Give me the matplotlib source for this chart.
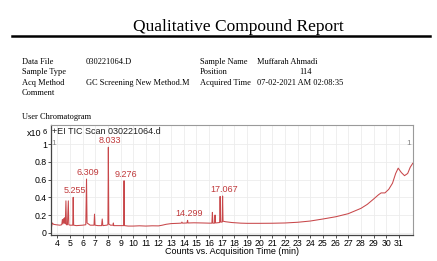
import matplotlib
matplotlib.use("Agg")
import matplotlib.pyplot as plt

# ---- data ----
trace_time = [3.52, 3.6, 3.7, 3.9, 4.2, 4.35, 4.4, 4.45, 4.5, 4.55, 4.6, 4.63, 4.68, 4.72,
              4.8, 4.87, 4.91, 5.0, 5.22, 5.255, 5.29, 5.5, 6.0, 6.25, 6.309, 6.35, 6.45,
              6.6, 6.9, 6.94, 6.98, 7.2, 7.5, 7.55, 7.6, 7.9, 8.0, 8.033, 8.07, 8.2, 8.4,
              8.43, 8.46, 8.8, 9.24, 9.276, 9.31, 9.6, 10.0, 10.5, 11.0, 11.5, 12.0, 12.3,
              12.6, 13.0, 13.5, 13.8, 13.85, 13.9, 14.25, 14.299, 14.33, 14.8, 15.5, 16.0,
              16.22, 16.26, 16.3, 16.43, 16.47, 16.51, 16.83, 16.87, 16.91, 17.03, 17.067,
              17.1, 17.3, 17.8, 18.5, 19.0, 20.0, 21.0, 22.0, 23.0, 24.0, 25.0, 26.0, 27.0,
              28.0, 28.5, 29.0, 29.4, 29.6, 29.9, 30.2, 30.5, 30.75, 30.95, 31.2, 31.45,
              31.7, 31.9, 32.1]
trace_value = [0.05, 0.11, 0.095, 0.09, 0.085, 0.09, 0.15, 0.1, 0.16, 0.11, 0.17, 0.1, 0.36, 0.09,
               0.09, 0.36, 0.09, 0.085, 0.085, 0.40, 0.085, 0.08, 0.085, 0.09, 0.607, 0.11, 0.1,
               0.085, 0.085, 0.21, 0.085, 0.08, 0.08, 0.155, 0.08, 0.085, 0.09, 0.966, 0.1, 0.085, 0.085,
               0.11, 0.08, 0.08, 0.08, 0.588, 0.08, 0.075, 0.075, 0.078, 0.075, 0.078, 0.077, 0.085,
               0.095, 0.103, 0.106, 0.108, 0.12, 0.108, 0.11, 0.14, 0.11, 0.112, 0.11, 0.108,
               0.108, 0.23, 0.108, 0.108, 0.20, 0.11, 0.115, 0.41, 0.12, 0.12, 0.415,
               0.13, 0.124, 0.115, 0.108, 0.106, 0.106, 0.107, 0.11, 0.118, 0.132, 0.155, 0.18, 0.215,
               0.275, 0.32, 0.38, 0.43, 0.45, 0.45, 0.49, 0.56, 0.67, 0.73, 0.68, 0.645,
               0.67, 0.74, 0.785]

peak_times = [5.255, 6.309, 8.033, 9.276, 14.299, 17.067]
peak_heights = [0.40, 0.607, 0.966, 0.588, 0.14, 0.415]
peak_labels = ["5.255", "6.309", "8.033", "9.276", "14.299", "17.067"]

x_ticks = list(range(4, 32))
y_ticks = [0, 0.2, 0.4, 0.6, 0.8, 1.0]
y_tick_labels = ["0", "0.2", "0.4", "0.6", "0.8", "1"]

header_left = [("Data File", "030221064.D"), ("Sample Type", ""),
               ("Acq Method", "GC Screening New Method.M"), ("Comment", "")]
header_right = [("Sample Name", "Muffarah Ahmadi"), ("Position", "114"),
                ("Acquired Time", "07-02-2021 AM 02:08:35")]

# ---- figure ----
W, H = 437, 261
fig = plt.figure(figsize=(W / 100, H / 100), dpi=100)
fig.patch.set_facecolor("white")

def fx(px):
    return px / W

def fy(py):
    return 1 - py / H

serif = "Liberation Serif"
sans = "Liberation Sans"
fig.text(fx(238), fy(27), "Qualitative Compound Report", ha="center", va="center",
         family=serif, fontsize=12.5)
fig.add_artist(plt.Line2D([fx(12), fx(430)], [fy(36), fy(36)], color="black", lw=1.8))

rows_y = [62, 72, 83, 93]
hs = 6
for (lab, val), y in zip(header_left, rows_y):
    fig.text(fx(22), fy(y), lab, ha="left", va="center", family=serif, fontsize=hs)
    if val:
        fig.text(fx(86), fy(y), val, ha="left", va="center", family=serif, fontsize=hs)
for (lab, val), y in zip(header_right, rows_y):
    fig.text(fx(200), fy(y), lab, ha="left", va="center", family=serif, fontsize=hs)
    if lab == "Position":
        fig.text(fx(306), fy(y), val, ha="center", va="center", family=serif, fontsize=hs)
    else:
        fig.text(fx(257), fy(y), val, ha="left", va="center", family=serif, fontsize=hs)

fig.text(fx(22), fy(117), "User Chromatogram", ha="left", va="center", family=serif, fontsize=hs)

# ---- axes ----
ax = fig.add_axes([fx(51), fy(235), fx(413) - fx(51), fy(125) - fy(235)])
ax.plot(trace_time, trace_value, color="#c8474a", lw=0.75)
for t, h, lab in zip(peak_times, peak_heights, peak_labels):
    ax.annotate(lab, (t, h), xytext=(1, 1.5), textcoords="offset points",
                ha="center", va="bottom", color="#c0393b", fontsize=6.5, family=sans)

ax.set_xlim(3.5, 32.12)
ax.set_ylim(-0.026, 1.218)
ax.set_xticks(x_ticks)
ax.set_xticklabels([str(v) for v in x_ticks], family=sans)
ax.set_yticks(y_ticks)
ax.set_yticklabels(y_tick_labels, family=sans)
ax.tick_params(axis="both", labelsize=6.3, length=2, pad=1, width=0.6, color="#333333")
ax.grid(True, color="#ececec", lw=0.6)
ax.set_axisbelow(True)
for side in ["top", "right"]:
    ax.spines[side].set_color("#9a9a9a")
    ax.spines[side].set_linewidth(0.8)
for side in ["left", "bottom"]:
    ax.spines[side].set_color("#444444")
    ax.spines[side].set_linewidth(0.9)

ax.text(0.004, 0.985, "+EI TIC Scan 030221064.d", transform=ax.transAxes, ha="left",
        va="top", fontsize=6.5, color="#222222", family=sans)
ax.text(3.71, 1.01, "1", ha="center", va="center", fontsize=6, color="#888888", family=sans)
ax.text(31.75, 1.01, "1", ha="center", va="center", fontsize=6, color="#888888", family=sans)

fig.text(fx(34), fy(134), "x10", ha="center", va="center", fontsize=6.5, family=sans)
fig.text(fx(45), fy(132.5), "6", ha="center", va="center", fontsize=5.5, family=sans)
fig.text(fx(232), fy(251.5), "Counts vs. Acquisition Time (min)", ha="center", va="center",
         fontsize=6.5, family=sans)

fig.savefig("out.png", dpi=100, facecolor="white")
